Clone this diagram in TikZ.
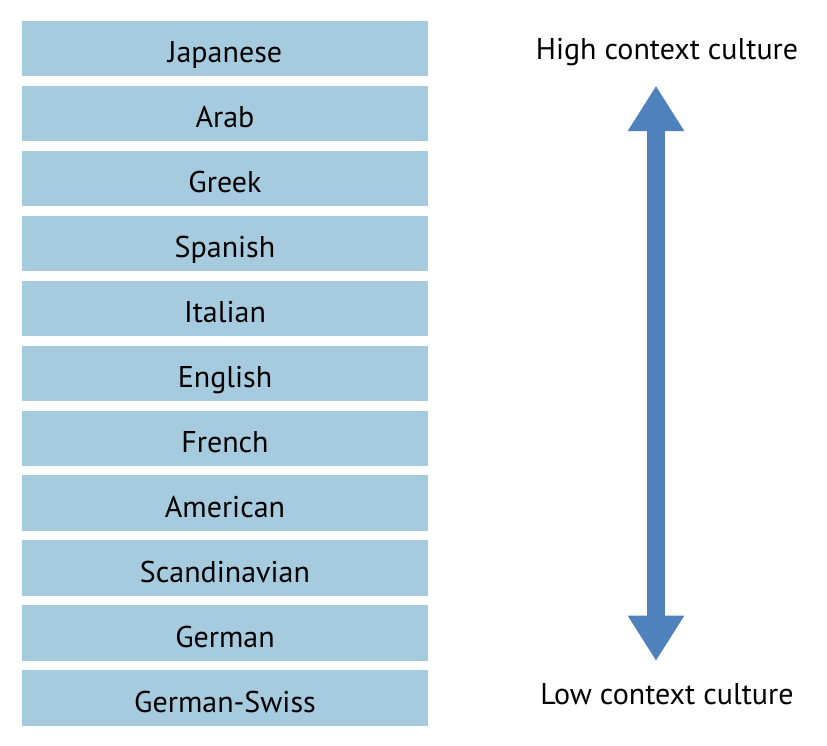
\documentclass[tikz,border=0pt]{standalone}
\usepackage{fontspec}
\setmainfont{PT Sans}
\usetikzlibrary{arrows.meta}
\definecolor{boxblue}{HTML}{A6CADE}
\definecolor{arrowblue}{HTML}{4F81BD}
\begin{document}
\begin{tikzpicture}[x=1pt,y=-1pt,
	culture/.style={fill=boxblue,minimum width=406pt,minimum height=55.5pt,inner sep=0pt,
		text height=28pt,text depth=0pt,font=\fontsize{30}{36}\selectfont},
	scale label/.style={anchor=base,inner sep=0pt,font=\fontsize{30}{36}\selectfont}]
	\useasboundingbox (0,0) rectangle (827,745);
	\node[culture] (jap) at (225,48.5) {Japanese};
	\node[culture] (arab) at (225,113.46) {Arab};
	\node[culture] (greek) at (225,178.42) {Greek};
	\node[culture] (span) at (225,243.38) {Spanish};
	\node[culture] (ital) at (225,308.34) {Italian};
	\node[culture] (engl) at (225,373.3) {English};
	\node[culture] (fren) at (225,438.26) {French};
	\node[culture] (amer) at (225,503.22) {American};
	\node[culture] (scan) at (225,568.18) {Scandinavian};
	\node[culture] (germ) at (225,633.14) {German};
	\node[culture] (swiss) at (225,698.1) {German-Swiss};
	\node[scale label] (high) at (667,59.3) {High context culture};
	\node[scale label] (low) at (667,704.3) {Low context culture};
	\coordinate (top) at (656,85.7);
	\coordinate (bot) at (656,661);
	\draw[arrowblue,line width=18.3pt,
		{Triangle[width=53.4pt,length=45.5pt]}-{Triangle[width=53.4pt,length=45.5pt]}] (top) -- (bot);
\end{tikzpicture}
\end{document}
